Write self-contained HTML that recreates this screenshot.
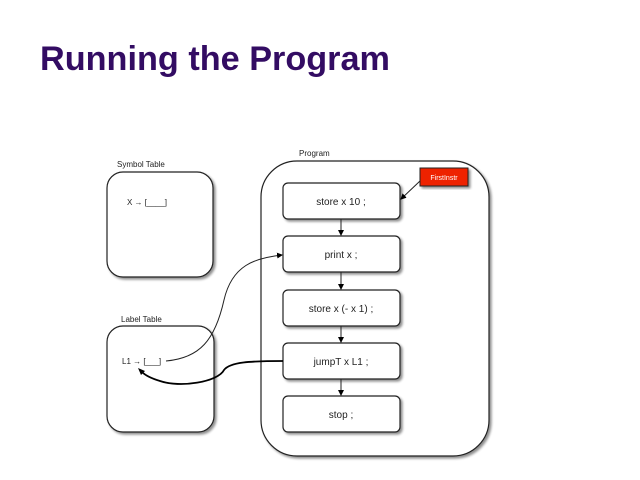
<!DOCTYPE html>
<html><head><meta charset="utf-8"><style>
html,body{margin:0;padding:0;background:#fff;}
svg{display:block;}
text{font-family:"Liberation Sans",Arial,sans-serif;}
</style></head><body>
<svg width="640" height="480" viewBox="0 0 640 480" xmlns="http://www.w3.org/2000/svg">
<defs>
<filter id="sh" x="-10%" y="-10%" width="130%" height="130%">
<feGaussianBlur in="SourceAlpha" stdDeviation="1.2"/><feOffset dx="2" dy="2"/>
<feComponentTransfer><feFuncA type="linear" slope="0.45"/></feComponentTransfer>
<feMerge><feMergeNode/><feMergeNode in="SourceGraphic"/></feMerge></filter>
<marker id="ar" markerWidth="6" markerHeight="6" refX="5" refY="3" orient="auto" markerUnits="userSpaceOnUse">
<path d="M0,0 L6,3 L0,6 z" fill="#000"/></marker>
</defs>
<text x="40" y="70" font-size="34" font-weight="bold" fill="#330c63" textLength="350" lengthAdjust="spacingAndGlyphs">Running the Program</text>

<text x="117" y="167" font-size="8" fill="#222">Symbol Table</text>
<rect x="107" y="172" width="106" height="105" rx="16" fill="#fff" stroke="#222" stroke-width="1.2" filter="url(#sh)"/>
<text x="127" y="205" font-size="8" fill="#222">X → [____]</text>

<text x="121" y="322" font-size="8" fill="#222">Label Table</text>
<rect x="107" y="326" width="107" height="106" rx="16" fill="#fff" stroke="#222" stroke-width="1.2" filter="url(#sh)"/>
<text x="122" y="364" font-size="8" fill="#222">L1 → [___]</text>

<text x="299" y="156" font-size="8" fill="#222">Program</text>
<rect x="261" y="161" width="228" height="295" rx="36" fill="#fff" stroke="#222" stroke-width="1.2" filter="url(#sh)"/>

<g font-size="10" fill="#222" text-anchor="middle">
<rect x="283" y="183" width="117" height="36" rx="5" fill="#fff" stroke="#222" stroke-width="1.2" filter="url(#sh)"/>
<text x="341" y="205">store x 10 ;</text>
<rect x="283" y="236" width="117" height="36" rx="5" fill="#fff" stroke="#222" stroke-width="1.2" filter="url(#sh)"/>
<text x="341" y="258">print x ;</text>
<rect x="283" y="290" width="117" height="36" rx="5" fill="#fff" stroke="#222" stroke-width="1.2" filter="url(#sh)"/>
<text x="341" y="312">store x (- x 1) ;</text>
<rect x="283" y="343" width="117" height="36" rx="5" fill="#fff" stroke="#222" stroke-width="1.2" filter="url(#sh)"/>
<text x="341" y="365">jumpT x L1 ;</text>
<rect x="283" y="396" width="117" height="36" rx="5" fill="#fff" stroke="#222" stroke-width="1.2" filter="url(#sh)"/>
<text x="341" y="418">stop ;</text>
</g>

<g stroke="#222" stroke-width="1" fill="none" marker-end="url(#ar)">
<line x1="341" y1="219" x2="341" y2="235"/>
<line x1="341" y1="272" x2="341" y2="289"/>
<line x1="341" y1="326" x2="341" y2="342"/>
<line x1="341" y1="379" x2="341" y2="395"/>
<line x1="420" y1="181" x2="401" y2="199"/>
<path d="M166,361 C200,358 215,340 224,300 C232,265 255,258 282,255"/>
</g>
<path d="M283,361 C250,361 230,362 224,370 C218,382 180,388 160,381 C150,378 145,375 142,372" stroke="#000" stroke-width="1.8" fill="none"/>
<path d="M138,368 L145,371 L141,375 z" fill="#000"/>

<rect x="420" y="168" width="48" height="18" fill="#ee2200" stroke="#222" stroke-width="1" filter="url(#sh)"/>
<text x="444" y="180" font-size="7" fill="#fff" text-anchor="middle">FirstInstr</text>
</svg>
</body></html>
